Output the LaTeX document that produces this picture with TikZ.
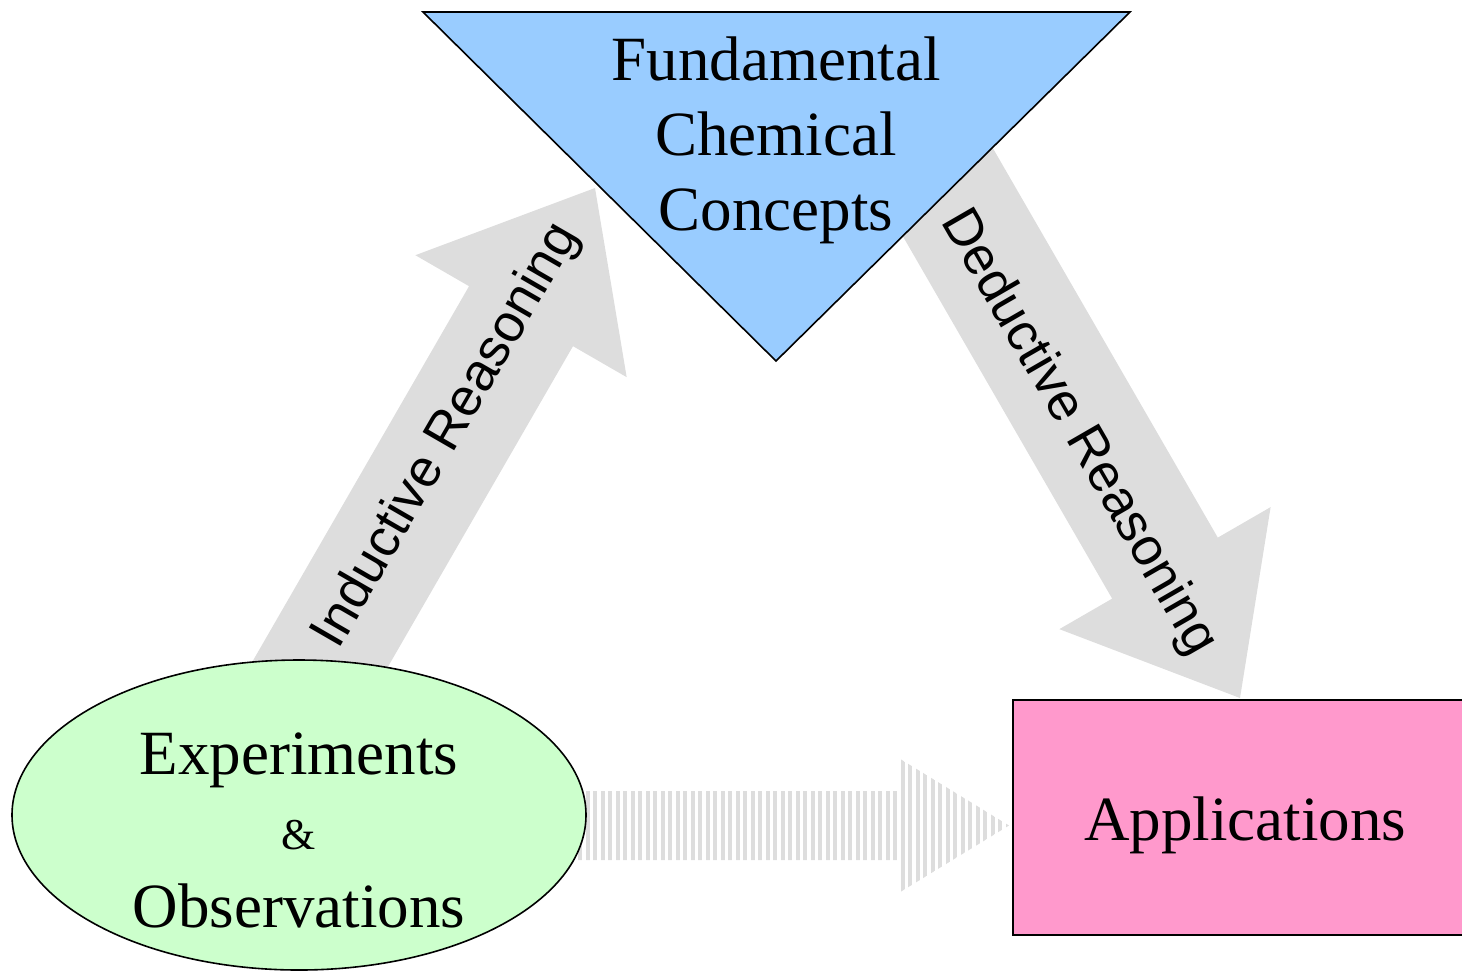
\documentclass[tikz,border=0pt]{standalone}
\usepackage{fontspec}
\setmainfont{Liberation Serif}
\setsansfont{Liberation Sans}
\usetikzlibrary{calc,shapes.geometric}

\definecolor{conceptblue}{HTML}{99CCFF}
\definecolor{expgreen}{HTML}{CCFFCC}
\definecolor{apppink}{HTML}{FF99CC}
\definecolor{arrowgray}{HTML}{DDDDDD}

\begin{document}
\begin{tikzpicture}[
  x=0.5pt,y=-0.5pt,
  block/.style={draw,line width=0.8pt,inner sep=0pt},
  big/.style={font=\fontsize{31.5}{37.5}\selectfont},
  lbl/.style={font=\sffamily\fontsize{26.5}{30}\selectfont,inner sep=0pt}
]
\useasboundingbox (0,0) rectangle (1462,971);
\clip (0,0) rectangle (1462,971);

% ends of the three block arrows
\coordinate (indBase) at (299.5,700);
\coordinate (indTip) at (595,188);
\coordinate (dedBase) at (920,144);
\coordinate (dedTip) at (1240,698);
\coordinate (obsBase) at (578,825.5);
\coordinate (obsTip) at (1009,825.5);
\coordinate (indNeck) at ($(indTip)!74pt!(indBase)$);
\coordinate (dedNeck) at ($(dedTip)!75pt!(dedBase)$);
\coordinate (obsNeck) at ($(obsTip)!56pt!(obsBase)$);

% inductive arrow
\fill[arrowgray] ($(indBase)!30pt!90:(indTip)$) -- ($(indNeck)!30pt!90:(indTip)$)
  -- ($(indNeck)!61pt!90:(indTip)$) -- (indTip) -- ($(indNeck)!61pt!-90:(indTip)$)
  -- ($(indNeck)!30pt!-90:(indTip)$) -- ($(indBase)!30pt!-90:(indTip)$) -- cycle;

% deductive arrow
\fill[arrowgray] ($(dedBase)!30.5pt!90:(dedTip)$) -- ($(dedNeck)!30.5pt!90:(dedTip)$)
  -- ($(dedNeck)!61pt!90:(dedTip)$) -- (dedTip) -- ($(dedNeck)!61pt!-90:(dedTip)$)
  -- ($(dedNeck)!30.5pt!-90:(dedTip)$) -- ($(dedBase)!30.5pt!-90:(dedTip)$) -- cycle;

% striped arrow
\begin{scope}
  \clip ($(obsBase)!17.25pt!90:(obsTip)$) -- ($(obsNeck)!17.25pt!90:(obsTip)$)
    -- ($(obsNeck)!34.25pt!90:(obsTip)$) -- (obsTip) -- ($(obsNeck)!34.25pt!-90:(obsTip)$)
    -- ($(obsNeck)!17.25pt!-90:(obsTip)$) -- ($(obsBase)!17.25pt!-90:(obsTip)$) -- cycle;
  \foreach \x in {580,587.5,...,1012}
    \draw[arrowgray,line width=2pt] (\x,740) -- (\x,910);
\end{scope}

% triangle
\coordinate (triL) at (423,12);
\coordinate (triR) at (1130,12);
\coordinate (triB) at (776,361);
\draw[fill=conceptblue,line width=0.8pt] (triL) -- (triR) -- (triB) -- cycle;
\node[big,align=center] (concepts) at (776,140.5) {Fundamental\\Chemical\\Concepts};

\node[block,ellipse,fill=expgreen,minimum width=287pt,minimum height=155pt] (exp) at (299,815) {};
\node[big,align=center] (expText) at (299,830)
  {Experiments\\{\fontsize{22}{26}\selectfont\&}\\[1.5pt]Observations};

\node[block,big,fill=apppink,minimum width=232pt,minimum height=117.5pt,
  text height=28pt,text depth=5.5pt] (app) at (1245,817.5) {Applications};

\node[lbl,rotate=60] (indLbl) at (447,436) {Inductive Reasoning};
\node[lbl,rotate=-60] (dedLbl) at (1078,433) {Deductive Reasoning};
\end{tikzpicture}
\end{document}
